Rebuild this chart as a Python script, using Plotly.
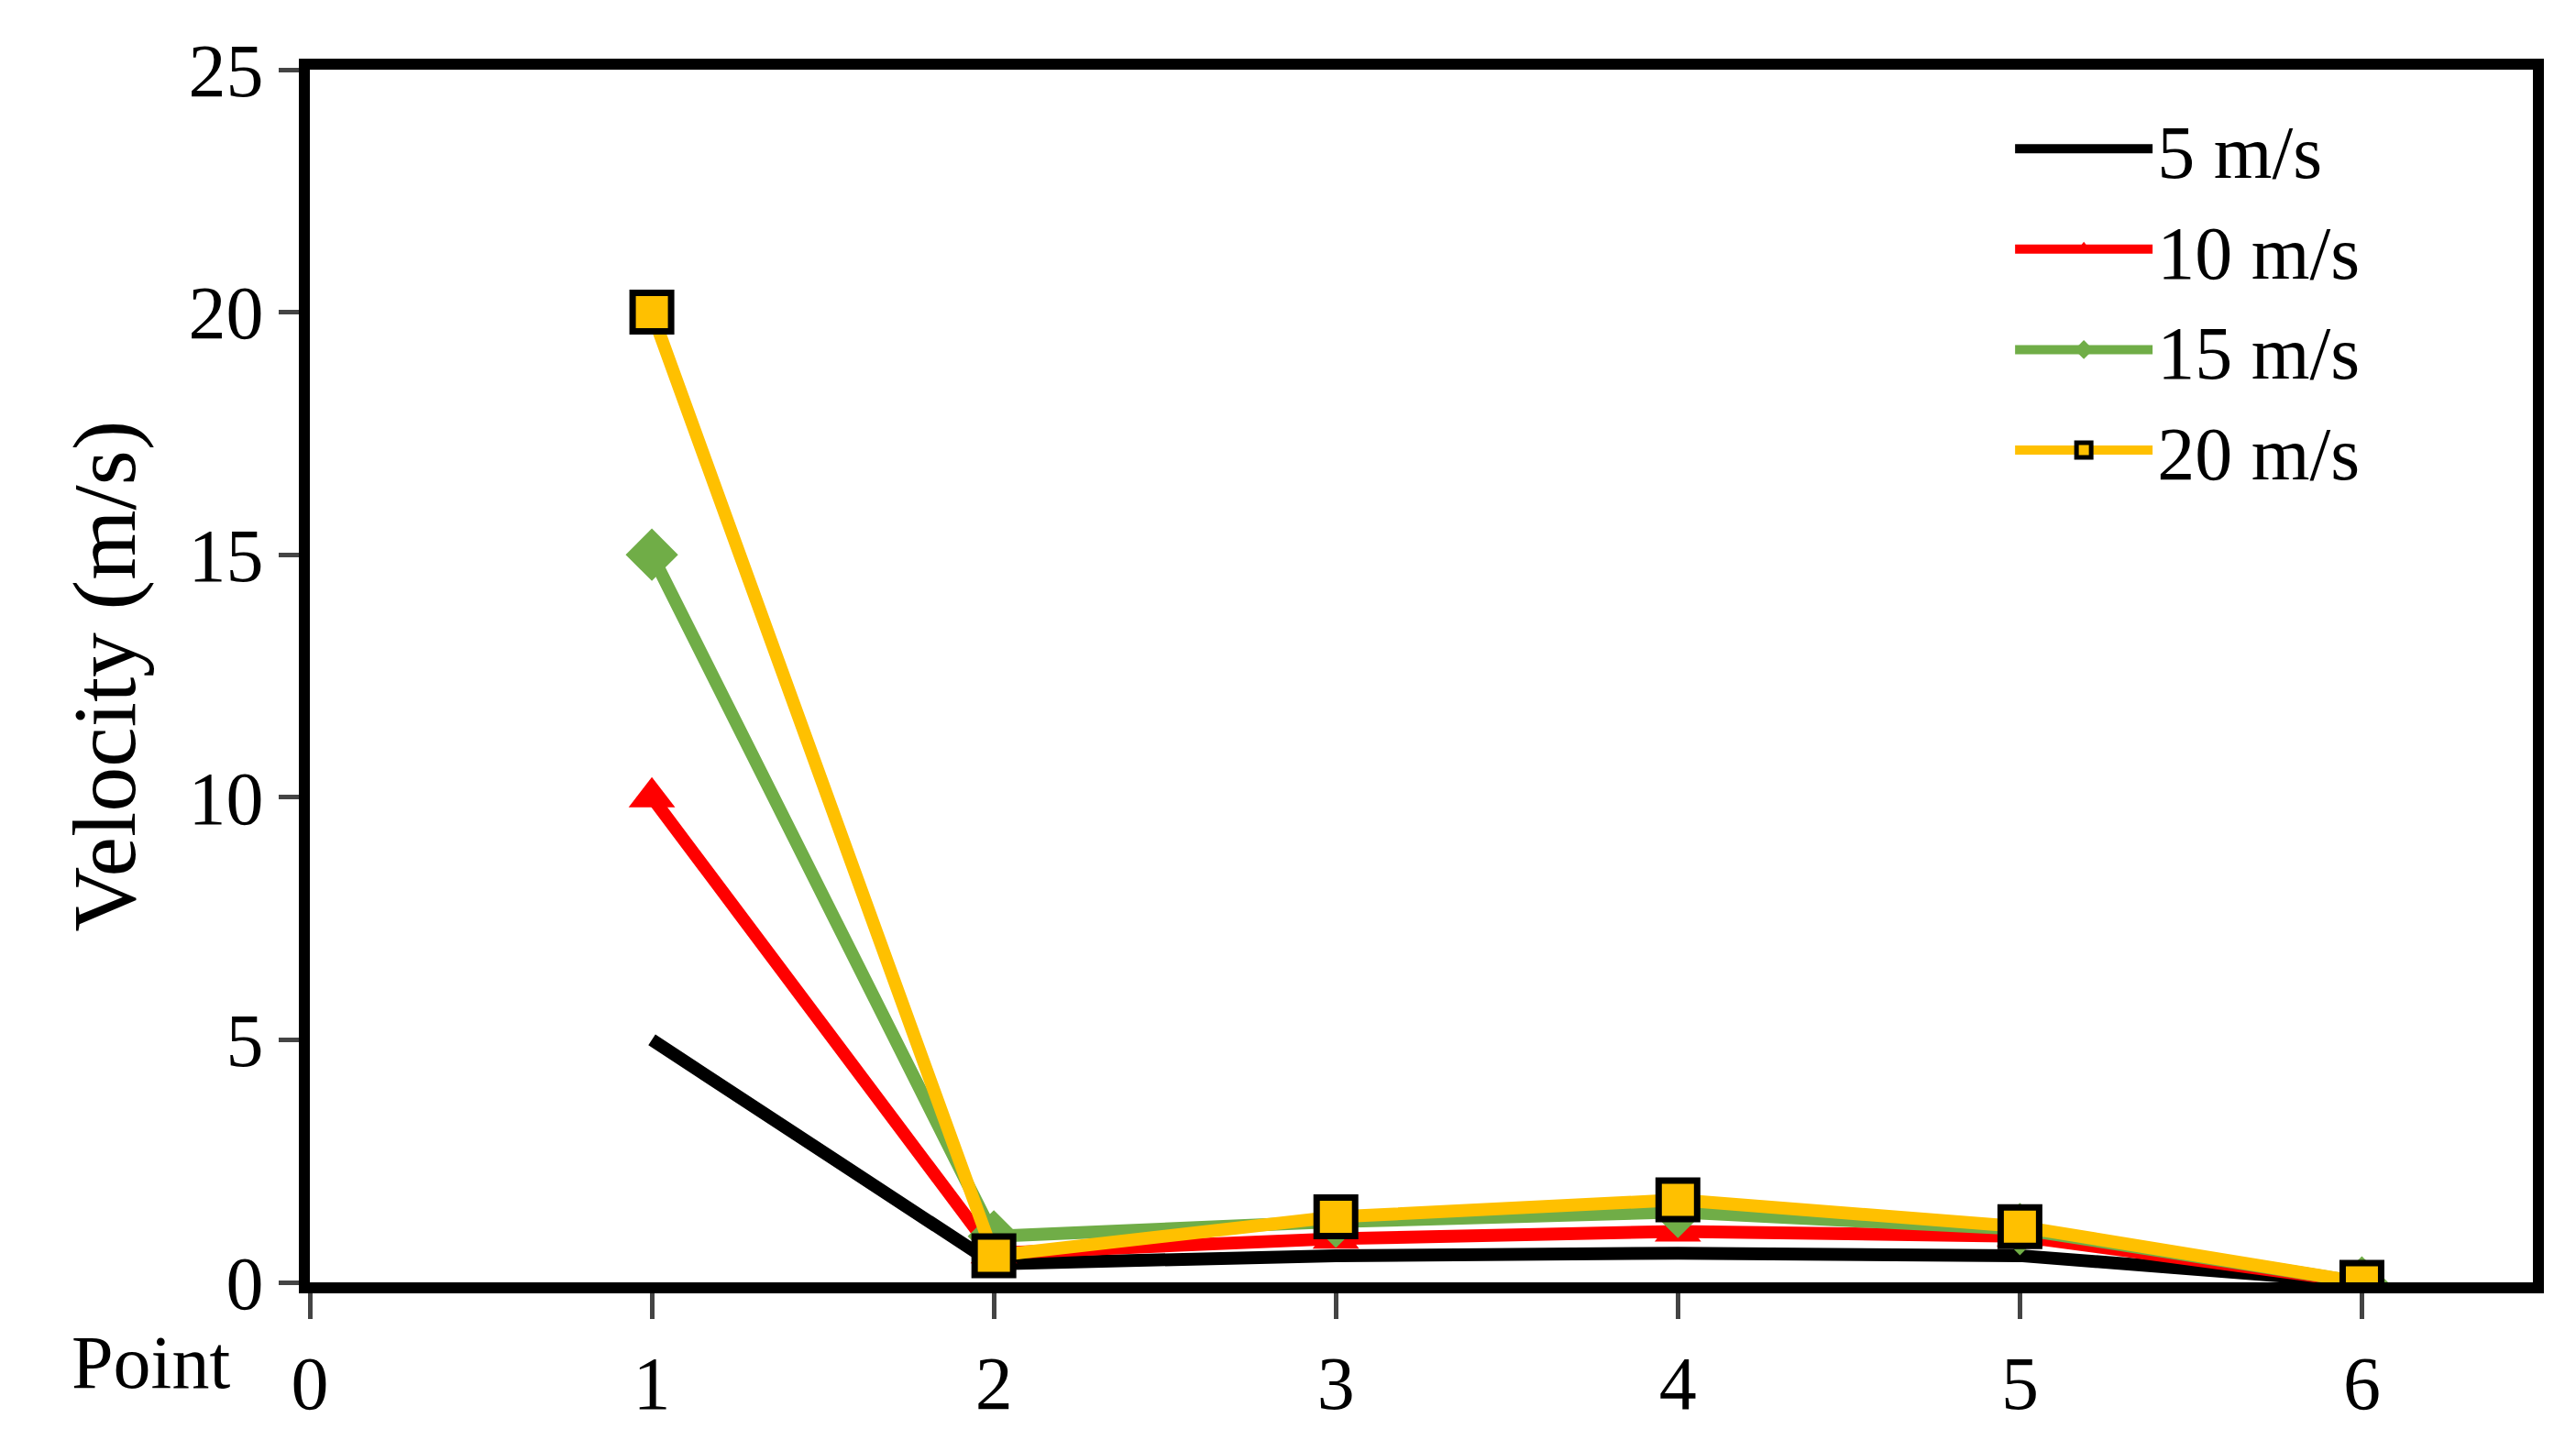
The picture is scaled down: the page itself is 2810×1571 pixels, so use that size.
import plotly.graph_objects as go

points = [1, 2, 3, 4, 5, 6]
v5 = [5, 0.38, 0.55, 0.6, 0.55, 0]
v10 = [10, 0.6, 0.9, 1.05, 0.95, 0]
v15 = [15, 0.95, 1.25, 1.45, 1.1, 0]
v20 = [20, 0.55, 1.35, 1.7, 1.15, 0]
names = ["5 m/s", "10 m/s", "15 m/s", "20 m/s"]

FONT = "Liberation Serif"
fig = go.Figure()
fig.add_trace(go.Scatter(x=points, y=v5, name=names[0], mode="lines",
                         line=dict(color="black", width=14)))
fig.add_trace(go.Scatter(x=points, y=v10, name=names[1], mode="lines+markers",
                         line=dict(color="#ff0000", width=14),
                         marker=dict(symbol="triangle-up", size=44, color="#ff0000")))
fig.add_trace(go.Scatter(x=points, y=v15, name=names[2], mode="lines+markers",
                         line=dict(color="#70ad47", width=14),
                         marker=dict(symbol="diamond", size=44, color="#70ad47")))
fig.add_trace(go.Scatter(x=points, y=v20, name=names[3], mode="lines+markers",
                         line=dict(color="#ffc000", width=14),
                         marker=dict(symbol="square", size=42, color="#ffc000",
                                     line=dict(color="black", width=7))))

fig.update_layout(
    width=2810, height=1571,
    paper_bgcolor="white", plot_bgcolor="white",
    margin=dict(l=330, r=55, t=68, b=180),
    font=dict(family=FONT, size=82, color="black"),
    xaxis=dict(range=[0, 6.5], tickvals=[0, 1, 2, 3, 4, 5, 6], ticks="outside",
               ticklen=28, tickwidth=5, showgrid=False, zeroline=False,
               showline=True, linewidth=12, linecolor="black", mirror=True),
    yaxis=dict(range=[0, 25], dtick=5, ticks="outside", ticklen=22, tickwidth=5,
               showgrid=False, zeroline=False, showline=True, linewidth=12,
               linecolor="black", mirror=True, title=dict(text="Velocity (m/s)", standoff=30)),
    legend=dict(x=0.765, y=0.98, xanchor="left", yanchor="top", tracegroupgap=0,
                bgcolor="rgba(0,0,0,0)", font=dict(size=82), itemwidth=150),
)
fig.add_annotation(text="Point", xref="paper", yref="paper", x=-0.035, y=-0.03,
                   xanchor="right", yanchor="top", showarrow=False,
                   font=dict(family=FONT, size=82))
fig.write_html("out.html")
